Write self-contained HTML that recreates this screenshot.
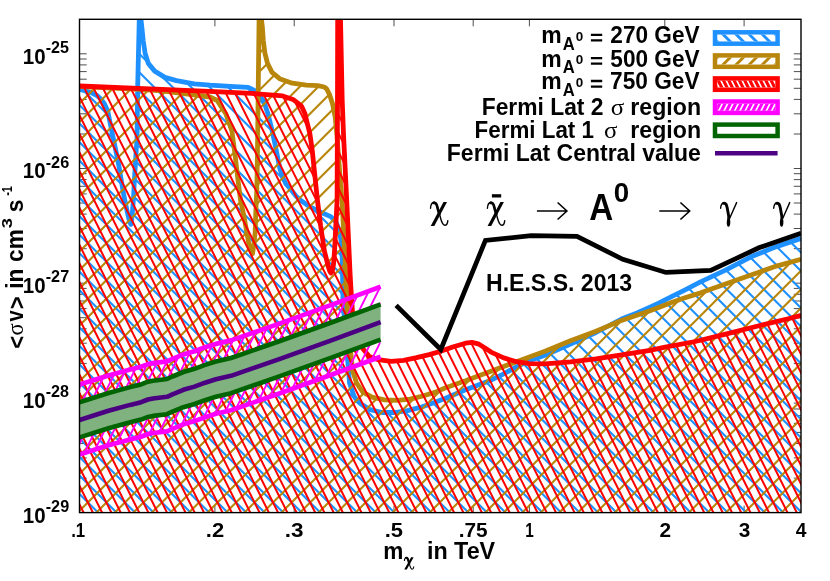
<!DOCTYPE html>
<html><head><meta charset="utf-8"><title>plot</title>
<style>html,body{margin:0;padding:0;background:#fff}svg{display:block}text{font-family:"Liberation Sans",sans-serif;font-weight:bold;fill:#000}.sy{font-family:"Liberation Serif",serif;font-weight:normal}</style></head>
<body>
<svg width="830" height="581" viewBox="0 0 830 581">
<rect width="830" height="581" fill="#fff"/>
<defs>
<clipPath id="fr"><rect x="79.5" y="19.3" width="721.5" height="493.3"/></clipPath>
<clipPath id="cb"><polygon points="79.5,89.5 86.0,91.0 92.2,93.0 97.0,95.5 100.8,99.0 104.5,104.0 107.7,111.0 111.2,128.2 115.5,148.9 118.9,165.8 120.6,176.4 124.1,196.8 127.5,213.0 129.8,222.5 131.0,224.3 132.2,215.0 133.6,196.8 134.4,180.0 135.3,165.8 136.2,150.0 137.0,140.0 137.7,86.0 139.5,10.0 139.9,10.0 141.9,27.7 143.2,40.5 145.1,53.2 148.3,63.4 154.7,71.1 164.9,77.4 176.4,80.6 194.2,83.8 210.0,85.1 230.0,86.3 248.2,87.3 255.0,90.8 259.0,95.0 263.7,101.1 268.0,114.0 272.3,131.0 275.8,148.2 280.0,168.9 283.0,178.0 286.0,184.0 290.0,188.5 296.4,196.5 300.2,200.0 309.1,206.4 321.9,212.7 330.8,216.6 335.9,221.7 339.7,231.9 341.6,244.6 342.2,257.3 343.0,300.0 346.0,340.0 349.6,383.2 354.0,396.0 357.0,400.5 360.4,403.6 369.3,409.3 382.0,412.5 394.8,412.5 407.5,410.6 420.3,407.4 433.0,403.0 445.0,398.5 465.5,389.7 491.0,380.2 503.7,373.8 516.5,366.8 529.2,360.8 545.0,355.3 570.5,344.0 596.0,332.5 621.5,319.0 637.0,313.0 650.0,307.2 658.7,303.1 671.5,296.7 684.2,290.3 700.0,282.2 725.5,270.2 751.0,256.8 776.5,246.6 801.0,238.4 801.0,512.6 79.5,512.6"/></clipPath>
<clipPath id="cg"><polygon points="79.5,86.6 140.0,89.3 161.0,90.8 178.0,92.8 195.5,95.0 210.0,97.0 217.2,100.5 222.0,108.0 225.8,113.8 231.9,131.0 235.3,156.8 237.9,179.2 240.5,200.0 243.9,215.8 249.1,245.1 251.5,252.0 252.5,253.7 253.8,245.0 255.1,233.0 256.0,207.2 256.8,190.0 257.5,150.0 258.1,100.0 259.2,10.0 260.3,10.0 261.4,19.0 262.4,27.7 263.3,40.5 264.9,53.2 267.5,63.4 272.0,72.3 279.6,78.7 292.3,83.2 306.4,85.1 317.8,85.7 324.2,87.0 326.7,88.9 329.5,94.5 332.6,104.0 335.2,117.2 336.9,134.4 339.5,170.0 342.0,200.0 344.6,250.0 346.9,300.0 349.0,340.0 351.0,355.0 352.2,366.0 352.7,370.5 356.6,383.2 362.9,392.1 371.9,397.2 384.6,399.8 397.3,400.4 410.1,399.2 422.8,396.0 435.6,392.1 445.0,388.0 465.5,380.8 491.0,371.2 516.5,361.7 545.0,351.2 570.5,340.8 596.0,331.2 621.5,320.4 650.0,310.8 658.7,307.5 671.5,302.4 684.2,298.0 700.0,293.1 725.5,284.0 751.0,275.0 776.5,266.1 801.0,259.3 801.0,512.6 79.5,512.6"/></clipPath>
<clipPath id="cr"><polygon points="79.5,86.0 215.0,91.6 251.7,93.4 282.7,95.9 293.0,99.4 298.2,103.4 301.6,106.3 305.0,113.8 307.4,123.7 309.9,133.9 312.2,150.0 314.8,175.0 317.4,200.0 320.6,225.5 324.4,251.0 328.2,266.3 329.8,271.3 331.0,273.0 332.4,270.3 333.6,263.7 334.6,250.0 335.2,238.2 336.5,212.7 337.1,200.0 337.5,100.0 337.7,10.0 340.3,10.0 342.2,100.0 343.5,134.0 346.7,200.0 350.1,274.0 351.0,290.0 353.0,320.0 356.0,335.0 362.9,348.8 369.3,356.5 378.2,359.7 391.0,361.3 403.7,360.3 416.5,357.7 429.2,354.6 440.0,351.5 452.7,347.0 465.5,343.2 471.9,342.3 478.2,343.8 484.6,347.7 491.0,352.1 503.7,357.9 516.5,361.7 529.2,363.6 545.0,363.8 570.5,361.8 596.0,358.9 621.5,354.8 650.0,350.3 664.0,347.3 695.3,341.5 726.6,333.8 758.0,326.0 789.3,318.5 801.2,315.4 801.2,512.6 79.5,512.6"/></clipPath>
<clipPath id="cm1"><polygon points="79.5,384.6 108.5,375.4 130.2,369.5 141.1,366.8 148.0,364.1 153.0,363.1 167.0,361.4 172.5,358.9 183.4,354.4 194.5,351.2 205.1,347.3 215.9,343.9 231.0,340.4 280.0,323.4 330.0,305.4 380.6,286.8 380.6,304.4 330.0,323.0 280.0,341.0 231.0,358.0 215.9,361.5 205.1,364.9 194.5,368.8 183.4,372.0 172.5,376.5 167.0,379.0 153.0,380.7 148.0,381.7 141.1,384.4 130.2,387.1 108.5,393.0 79.5,402.2"/></clipPath>
<clipPath id="cm2"><polygon points="79.5,437.4 108.5,428.2 130.2,422.3 141.1,419.6 148.0,416.9 153.0,415.9 167.0,414.2 172.5,411.7 183.4,407.2 194.5,404.0 205.1,400.1 215.9,396.7 231.0,393.2 280.0,376.2 330.0,358.2 380.6,339.6 380.6,356.7 330.0,375.3 280.0,393.3 231.0,410.3 215.9,413.8 205.1,417.2 194.5,421.1 183.4,424.3 172.5,428.8 167.0,431.3 153.0,433.0 148.0,434.0 141.1,436.7 130.2,439.4 108.5,445.3 79.5,454.5"/></clipPath>
</defs>
<path d="M79.5 478.1h7.2M801.0 478.1h-7.2M79.5 457.9h7.2M801.0 457.9h-7.2M79.5 443.5h7.2M801.0 443.5h-7.2M79.5 432.4h7.2M801.0 432.4h-7.2M79.5 423.3h7.2M801.0 423.3h-7.2M79.5 415.7h7.2M801.0 415.7h-7.2M79.5 409.0h7.2M801.0 409.0h-7.2M79.5 403.1h7.2M801.0 403.1h-7.2M79.5 397.9h7.2M801.0 397.9h-7.2M79.5 363.4h7.2M801.0 363.4h-7.2M79.5 343.2h7.2M801.0 343.2h-7.2M79.5 328.8h7.2M801.0 328.8h-7.2M79.5 317.7h7.2M801.0 317.7h-7.2M79.5 308.6h7.2M801.0 308.6h-7.2M79.5 301.0h7.2M801.0 301.0h-7.2M79.5 294.3h7.2M801.0 294.3h-7.2M79.5 288.4h7.2M801.0 288.4h-7.2M79.5 283.2h7.2M801.0 283.2h-7.2M79.5 248.7h7.2M801.0 248.7h-7.2M79.5 228.5h7.2M801.0 228.5h-7.2M79.5 214.1h7.2M801.0 214.1h-7.2M79.5 203.0h7.2M801.0 203.0h-7.2M79.5 193.9h7.2M801.0 193.9h-7.2M79.5 186.3h7.2M801.0 186.3h-7.2M79.5 179.6h7.2M801.0 179.6h-7.2M79.5 173.7h7.2M801.0 173.7h-7.2M79.5 168.5h7.2M801.0 168.5h-7.2M79.5 134.0h7.2M801.0 134.0h-7.2M79.5 113.8h7.2M801.0 113.8h-7.2M79.5 99.4h7.2M801.0 99.4h-7.2M79.5 88.3h7.2M801.0 88.3h-7.2M79.5 79.2h7.2M801.0 79.2h-7.2M79.5 71.6h7.2M801.0 71.6h-7.2M79.5 64.9h7.2M801.0 64.9h-7.2M79.5 59.0h7.2M801.0 59.0h-7.2M79.5 53.8h7.2M801.0 53.8h-7.2M214.9 512.6v-7M214.9 19.3v7M294.2 512.6v-7M294.2 19.3v7M394.0 512.6v-7M394.0 19.3v7M473.2 512.6v-7M473.2 19.3v7M529.4 512.6v-7M529.4 19.3v7M664.8 512.6v-7M664.8 19.3v7M744.1 512.6v-7M744.1 19.3v7" stroke="#000" stroke-width="0.7" fill="none"/>
<g clip-path="url(#fr)">
<g clip-path="url(#cb)"><path d="M74.5 -696.2L806.0 35.3M74.5 -677.7L806.0 53.8M74.5 -659.2L806.0 72.3M74.5 -640.7L806.0 90.8M74.5 -622.2L806.0 109.3M74.5 -603.6L806.0 127.9M74.5 -585.1L806.0 146.4M74.5 -566.6L806.0 164.9M74.5 -548.1L806.0 183.4M74.5 -529.6L806.0 201.9M74.5 -511.0L806.0 220.5M74.5 -492.5L806.0 239.0M74.5 -474.0L806.0 257.5M74.5 -455.5L806.0 276.0M74.5 -437.0L806.0 294.5M74.5 -418.4L806.0 313.1M74.5 -399.9L806.0 331.6M74.5 -381.4L806.0 350.1M74.5 -362.9L806.0 368.6M74.5 -344.4L806.0 387.1M74.5 -325.8L806.0 405.7M74.5 -307.3L806.0 424.2M74.5 -288.8L806.0 442.7M74.5 -270.3L806.0 461.2M74.5 -251.8L806.0 479.7M74.5 -233.2L806.0 498.3M74.5 -214.7L806.0 516.8M74.5 -196.2L806.0 535.3M74.5 -177.7L806.0 553.8M74.5 -159.2L806.0 572.3M74.5 -140.6L806.0 590.9M74.5 -122.1L806.0 609.4M74.5 -103.6L806.0 627.9M74.5 -85.1L806.0 646.4M74.5 -66.6L806.0 664.9M74.5 -48.0L806.0 683.5M74.5 -29.5L806.0 702.0M74.5 -11.0L806.0 720.5M74.5 7.5L806.0 739.0M74.5 26.0L806.0 757.5M74.5 44.6L806.0 776.1M74.5 63.1L806.0 794.6M74.5 81.6L806.0 813.1M74.5 100.1L806.0 831.6M74.5 118.6L806.0 850.1M74.5 137.2L806.0 868.7M74.5 155.7L806.0 887.2M74.5 174.2L806.0 905.7M74.5 192.7L806.0 924.2M74.5 211.2L806.0 942.7M74.5 229.8L806.0 961.3M74.5 248.3L806.0 979.8M74.5 266.8L806.0 998.3M74.5 285.3L806.0 1016.8M74.5 303.8L806.0 1035.3M74.5 322.4L806.0 1053.9M74.5 340.9L806.0 1072.4M74.5 359.4L806.0 1090.9M74.5 377.9L806.0 1109.4M74.5 396.4L806.0 1127.9M74.5 415.0L806.0 1146.5M74.5 433.5L806.0 1165.0M74.5 452.0L806.0 1183.5M74.5 470.5L806.0 1202.0M74.5 489.0L806.0 1220.5M74.5 507.6L806.0 1239.1" stroke="#1e90ff" stroke-width="2.10" fill="none"/></g>
<polyline points="79.5,89.5 86.0,91.0 92.2,93.0 97.0,95.5 100.8,99.0 104.5,104.0 107.7,111.0 111.2,128.2 115.5,148.9 118.9,165.8 120.6,176.4 124.1,196.8 127.5,213.0 129.8,222.5 131.0,224.3 132.2,215.0 133.6,196.8 134.4,180.0 135.3,165.8 136.2,150.0 137.0,140.0 137.7,86.0 139.5,10.0 139.9,10.0 141.9,27.7 143.2,40.5 145.1,53.2 148.3,63.4 154.7,71.1 164.9,77.4 176.4,80.6 194.2,83.8 210.0,85.1 230.0,86.3 248.2,87.3 255.0,90.8 259.0,95.0 263.7,101.1 268.0,114.0 272.3,131.0 275.8,148.2 280.0,168.9 283.0,178.0 286.0,184.0 290.0,188.5 296.4,196.5 300.2,200.0 309.1,206.4 321.9,212.7 330.8,216.6 335.9,221.7 339.7,231.9 341.6,244.6 342.2,257.3 343.0,300.0 346.0,340.0 349.6,383.2 354.0,396.0 357.0,400.5 360.4,403.6 369.3,409.3 382.0,412.5 394.8,412.5 407.5,410.6 420.3,407.4 433.0,403.0 445.0,398.5 465.5,389.7 491.0,380.2 503.7,373.8 516.5,366.8 529.2,360.8 545.0,355.3 570.5,344.0 596.0,332.5 621.5,319.0 637.0,313.0 650.0,307.2 658.7,303.1 671.5,296.7 684.2,290.3 700.0,282.2 725.5,270.2 751.0,256.8 776.5,246.6 801.0,238.4" fill="none" stroke="#1e90ff" stroke-width="4.8" stroke-linejoin="round"/>
<g clip-path="url(#cg)"><path d="M74.5 34.3L806.0 -697.2M74.5 52.8L806.0 -678.7M74.5 71.4L806.0 -660.1M74.5 89.9L806.0 -641.6M74.5 108.4L806.0 -623.1M74.5 126.9L806.0 -604.6M74.5 145.4L806.0 -586.1M74.5 164.0L806.0 -567.5M74.5 182.5L806.0 -549.0M74.5 201.0L806.0 -530.5M74.5 219.5L806.0 -512.0M74.5 238.0L806.0 -493.5M74.5 256.6L806.0 -474.9M74.5 275.1L806.0 -456.4M74.5 293.6L806.0 -437.9M74.5 312.1L806.0 -419.4M74.5 330.6L806.0 -400.9M74.5 349.2L806.0 -382.3M74.5 367.7L806.0 -363.8M74.5 386.2L806.0 -345.3M74.5 404.7L806.0 -326.8M74.5 423.2L806.0 -308.3M74.5 441.8L806.0 -289.8M74.5 460.3L806.0 -271.2M74.5 478.8L806.0 -252.7M74.5 497.3L806.0 -234.2M74.5 515.8L806.0 -215.7M74.5 534.4L806.0 -197.1M74.5 552.9L806.0 -178.6M74.5 571.4L806.0 -160.1M74.5 589.9L806.0 -141.6M74.5 608.4L806.0 -123.1M74.5 627.0L806.0 -104.5M74.5 645.5L806.0 -86.0M74.5 664.0L806.0 -67.5M74.5 682.5L806.0 -49.0M74.5 701.0L806.0 -30.5M74.5 719.5L806.0 -12.0M74.5 738.1L806.0 6.6M74.5 756.6L806.0 25.1M74.5 775.1L806.0 43.6M74.5 793.6L806.0 62.1M74.5 812.2L806.0 80.7M74.5 830.7L806.0 99.2M74.5 849.2L806.0 117.7M74.5 867.7L806.0 136.2M74.5 886.2L806.0 154.7M74.5 904.8L806.0 173.2M74.5 923.3L806.0 191.8M74.5 941.8L806.0 210.3M74.5 960.3L806.0 228.8M74.5 978.8L806.0 247.3M74.5 997.3L806.0 265.8M74.5 1015.9L806.0 284.4M74.5 1034.4L806.0 302.9M74.5 1052.9L806.0 321.4M74.5 1071.4L806.0 339.9M74.5 1090.0L806.0 358.5M74.5 1108.5L806.0 377.0M74.5 1127.0L806.0 395.5M74.5 1145.5L806.0 414.0M74.5 1164.0L806.0 432.5M74.5 1182.5L806.0 451.0M74.5 1201.1L806.0 469.6M74.5 1219.6L806.0 488.1M74.5 1238.1L806.0 506.6" stroke="#b8860b" stroke-width="2.10" fill="none"/></g>
<polyline points="79.5,86.6 140.0,89.3 161.0,90.8 178.0,92.8 195.5,95.0 210.0,97.0 217.2,100.5 222.0,108.0 225.8,113.8 231.9,131.0 235.3,156.8 237.9,179.2 240.5,200.0 243.9,215.8 249.1,245.1 251.5,252.0 252.5,253.7 253.8,245.0 255.1,233.0 256.0,207.2 256.8,190.0 257.5,150.0 258.1,100.0 259.2,10.0 260.3,10.0 261.4,19.0 262.4,27.7 263.3,40.5 264.9,53.2 267.5,63.4 272.0,72.3 279.6,78.7 292.3,83.2 306.4,85.1 317.8,85.7 324.2,87.0 326.7,88.9 329.5,94.5 332.6,104.0 335.2,117.2 336.9,134.4 339.5,170.0 342.0,200.0 344.6,250.0 346.9,300.0 349.0,340.0 351.0,355.0 352.2,366.0 352.7,370.5 356.6,383.2 362.9,392.1 371.9,397.2 384.6,399.8 397.3,400.4 410.1,399.2 422.8,396.0 435.6,392.1 445.0,388.0 465.5,380.8 491.0,371.2 516.5,361.7 545.0,351.2 570.5,340.8 596.0,331.2 621.5,320.4 650.0,310.8 658.7,307.5 671.5,302.4 684.2,298.0 700.0,293.1 725.5,284.0 751.0,275.0 776.5,266.1 801.0,259.3" fill="none" stroke="#b8860b" stroke-width="4.8" stroke-linejoin="round"/>
<g clip-path="url(#cr)"><path d="M-165.6 14.3L86.1 517.6M-156.3 14.3L95.4 517.6M-147.0 14.3L104.6 517.6M-137.8 14.3L113.9 517.6M-128.5 14.3L123.2 517.6M-119.2 14.3L132.4 517.6M-110.0 14.3L141.7 517.6M-100.7 14.3L150.9 517.6M-91.5 14.3L160.2 517.6M-82.2 14.3L169.5 517.6M-72.9 14.3L178.7 517.6M-63.7 14.3L188.0 517.6M-54.4 14.3L197.2 517.6M-45.1 14.3L206.5 517.6M-35.9 14.3L215.8 517.6M-26.6 14.3L225.0 517.6M-17.3 14.3L234.3 517.6M-8.1 14.3L243.6 517.6M1.2 14.3L252.8 517.6M10.4 14.3L262.1 517.6M19.7 14.3L271.4 517.6M29.0 14.3L280.6 517.6M38.2 14.3L289.9 517.6M47.5 14.3L299.1 517.6M56.7 14.3L308.4 517.6M66.0 14.3L317.7 517.6M75.3 14.3L326.9 517.6M84.5 14.3L336.2 517.6M93.8 14.3L345.4 517.6M103.1 14.3L354.7 517.6M112.3 14.3L364.0 517.6M121.6 14.3L373.2 517.6M130.8 14.3L382.5 517.6M140.1 14.3L391.8 517.6M149.4 14.3L401.0 517.6M158.6 14.3L410.3 517.6M167.9 14.3L419.6 517.6M177.2 14.3L428.8 517.6M186.4 14.3L438.1 517.6M195.7 14.3L447.3 517.6M205.0 14.3L456.6 517.6M214.2 14.3L465.9 517.6M223.5 14.3L475.1 517.6M232.7 14.3L484.4 517.6M242.0 14.3L493.6 517.6M251.3 14.3L502.9 517.6M260.5 14.3L512.2 517.6M269.8 14.3L521.4 517.6M279.0 14.3L530.7 517.6M288.3 14.3L540.0 517.6M297.6 14.3L549.2 517.6M306.8 14.3L558.5 517.6M316.1 14.3L567.8 517.6M325.4 14.3L577.0 517.6M334.6 14.3L586.3 517.6M343.9 14.3L595.5 517.6M353.1 14.3L604.8 517.6M362.4 14.3L614.1 517.6M371.7 14.3L623.3 517.6M380.9 14.3L632.6 517.6M390.2 14.3L641.8 517.6M399.5 14.3L651.1 517.6M408.7 14.3L660.4 517.6M418.0 14.3L669.6 517.6M427.2 14.3L678.9 517.6M436.5 14.3L688.2 517.6M445.8 14.3L697.4 517.6M455.0 14.3L706.7 517.6M464.3 14.3L715.9 517.6M473.6 14.3L725.2 517.6M482.8 14.3L734.5 517.6M492.1 14.3L743.7 517.6M501.3 14.3L753.0 517.6M510.6 14.3L762.3 517.6M519.9 14.3L771.5 517.6M529.1 14.3L780.8 517.6M538.4 14.3L790.0 517.6M547.7 14.3L799.3 517.6M556.9 14.3L808.6 517.6M566.2 14.3L817.8 517.6M575.4 14.3L827.1 517.6M584.7 14.3L836.4 517.6M594.0 14.3L845.6 517.6M603.2 14.3L854.9 517.6M612.5 14.3L864.1 517.6M621.8 14.3L873.4 517.6M631.0 14.3L882.7 517.6M640.3 14.3L891.9 517.6M649.5 14.3L901.2 517.6M658.8 14.3L910.5 517.6M668.1 14.3L919.7 517.6M677.3 14.3L929.0 517.6M686.6 14.3L938.2 517.6M695.9 14.3L947.5 517.6M705.1 14.3L956.8 517.6M714.4 14.3L966.0 517.6M723.6 14.3L975.3 517.6M732.9 14.3L984.6 517.6M742.2 14.3L993.8 517.6M751.4 14.3L1003.1 517.6M760.7 14.3L1012.3 517.6M770.0 14.3L1021.6 517.6M779.2 14.3L1030.9 517.6M788.5 14.3L1040.1 517.6M797.7 14.3L1049.4 517.6" stroke="#ff0000" stroke-width="2.00" fill="none"/></g>
<polyline points="79.5,86.0 215.0,91.6 251.7,93.4 282.7,95.9 293.0,99.4 298.2,103.4 301.6,106.3 305.0,113.8 307.4,123.7 309.9,133.9 312.2,150.0 314.8,175.0 317.4,200.0 320.6,225.5 324.4,251.0 328.2,266.3 329.8,271.3 331.0,273.0 332.4,270.3 333.6,263.7 334.6,250.0 335.2,238.2 336.5,212.7 337.1,200.0 337.5,100.0 337.7,10.0 340.3,10.0 342.2,100.0 343.5,134.0 346.7,200.0 350.1,274.0 351.0,290.0 353.0,320.0 356.0,335.0 362.9,348.8 369.3,356.5 378.2,359.7 391.0,361.3 403.7,360.3 416.5,357.7 429.2,354.6 440.0,351.5 452.7,347.0 465.5,343.2 471.9,342.3 478.2,343.8 484.6,347.7 491.0,352.1 503.7,357.9 516.5,361.7 529.2,363.6 545.0,363.8 570.5,361.8 596.0,358.9 621.5,354.8 650.0,350.3 664.0,347.3 695.3,341.5 726.6,333.8 758.0,326.0 789.3,318.5 801.2,315.4" fill="none" stroke="#ff0000" stroke-width="4.8" stroke-linejoin="round"/>
<g clip-path="url(#cm1)"><path d="M81.2 14.3L-170.4 517.6M90.5 14.3L-161.2 517.6M99.7 14.3L-151.9 517.6M109.0 14.3L-142.7 517.6M118.3 14.3L-133.4 517.6M127.5 14.3L-124.1 517.6M136.8 14.3L-114.9 517.6M146.0 14.3L-105.6 517.6M155.3 14.3L-96.3 517.6M164.6 14.3L-87.1 517.6M173.8 14.3L-77.8 517.6M183.1 14.3L-68.6 517.6M192.4 14.3L-59.3 517.6M201.6 14.3L-50.0 517.6M210.9 14.3L-40.8 517.6M220.1 14.3L-31.5 517.6M229.4 14.3L-22.2 517.6M238.7 14.3L-13.0 517.6M247.9 14.3L-3.7 517.6M257.2 14.3L5.5 517.6M266.5 14.3L14.8 517.6M275.7 14.3L24.1 517.6M285.0 14.3L33.3 517.6M294.2 14.3L42.6 517.6M303.5 14.3L51.9 517.6M312.8 14.3L61.1 517.6M322.0 14.3L70.4 517.6M331.3 14.3L79.6 517.6M340.6 14.3L88.9 517.6M349.8 14.3L98.2 517.6M359.1 14.3L107.4 517.6M368.3 14.3L116.7 517.6M377.6 14.3L125.9 517.6M386.9 14.3L135.2 517.6M396.1 14.3L144.5 517.6M405.4 14.3L153.7 517.6M414.6 14.3L163.0 517.6M423.9 14.3L172.3 517.6M433.2 14.3L181.5 517.6M442.4 14.3L190.8 517.6M451.7 14.3L200.1 517.6M461.0 14.3L209.3 517.6M470.2 14.3L218.6 517.6M479.5 14.3L227.8 517.6M488.8 14.3L237.1 517.6M498.0 14.3L246.4 517.6M507.3 14.3L255.6 517.6M516.5 14.3L264.9 517.6M525.8 14.3L274.1 517.6M535.1 14.3L283.4 517.6M544.3 14.3L292.7 517.6M553.6 14.3L301.9 517.6M562.9 14.3L311.2 517.6M572.1 14.3L320.5 517.6M581.4 14.3L329.7 517.6M590.6 14.3L339.0 517.6M599.9 14.3L348.2 517.6M609.2 14.3L357.5 517.6M618.4 14.3L366.8 517.6M627.7 14.3L376.0 517.6M637.0 14.3L385.3 517.6M646.2 14.3L394.6 517.6M655.5 14.3L403.8 517.6M664.7 14.3L413.1 517.6M674.0 14.3L422.3 517.6M683.3 14.3L431.6 517.6M692.5 14.3L440.9 517.6M701.8 14.3L450.1 517.6M711.0 14.3L459.4 517.6M720.3 14.3L468.7 517.6M729.6 14.3L477.9 517.6M738.8 14.3L487.2 517.6M748.1 14.3L496.4 517.6M757.4 14.3L505.7 517.6M766.6 14.3L515.0 517.6M775.9 14.3L524.2 517.6M785.1 14.3L533.5 517.6M794.4 14.3L542.8 517.6M803.7 14.3L552.0 517.6M812.9 14.3L561.3 517.6M822.2 14.3L570.5 517.6M831.5 14.3L579.8 517.6M840.7 14.3L589.1 517.6M850.0 14.3L598.3 517.6M859.2 14.3L607.6 517.6M868.5 14.3L616.9 517.6M877.8 14.3L626.1 517.6M887.0 14.3L635.4 517.6M896.3 14.3L644.7 517.6M905.6 14.3L653.9 517.6M914.8 14.3L663.2 517.6M924.1 14.3L672.4 517.6M933.4 14.3L681.7 517.6M942.6 14.3L691.0 517.6M951.9 14.3L700.2 517.6M961.1 14.3L709.5 517.6M970.4 14.3L718.8 517.6M979.7 14.3L728.0 517.6M988.9 14.3L737.3 517.6M998.2 14.3L746.5 517.6M1007.4 14.3L755.8 517.6M1016.7 14.3L765.1 517.6M1026.0 14.3L774.3 517.6M1035.2 14.3L783.6 517.6M1044.5 14.3L792.8 517.6M1053.8 14.3L802.1 517.6" stroke="#ff00ff" stroke-width="1.90" fill="none"/></g>
<g clip-path="url(#cm2)"><path d="M81.2 14.3L-170.4 517.6M90.5 14.3L-161.2 517.6M99.7 14.3L-151.9 517.6M109.0 14.3L-142.7 517.6M118.3 14.3L-133.4 517.6M127.5 14.3L-124.1 517.6M136.8 14.3L-114.9 517.6M146.0 14.3L-105.6 517.6M155.3 14.3L-96.3 517.6M164.6 14.3L-87.1 517.6M173.8 14.3L-77.8 517.6M183.1 14.3L-68.6 517.6M192.4 14.3L-59.3 517.6M201.6 14.3L-50.0 517.6M210.9 14.3L-40.8 517.6M220.1 14.3L-31.5 517.6M229.4 14.3L-22.2 517.6M238.7 14.3L-13.0 517.6M247.9 14.3L-3.7 517.6M257.2 14.3L5.5 517.6M266.5 14.3L14.8 517.6M275.7 14.3L24.1 517.6M285.0 14.3L33.3 517.6M294.2 14.3L42.6 517.6M303.5 14.3L51.9 517.6M312.8 14.3L61.1 517.6M322.0 14.3L70.4 517.6M331.3 14.3L79.6 517.6M340.6 14.3L88.9 517.6M349.8 14.3L98.2 517.6M359.1 14.3L107.4 517.6M368.3 14.3L116.7 517.6M377.6 14.3L125.9 517.6M386.9 14.3L135.2 517.6M396.1 14.3L144.5 517.6M405.4 14.3L153.7 517.6M414.6 14.3L163.0 517.6M423.9 14.3L172.3 517.6M433.2 14.3L181.5 517.6M442.4 14.3L190.8 517.6M451.7 14.3L200.1 517.6M461.0 14.3L209.3 517.6M470.2 14.3L218.6 517.6M479.5 14.3L227.8 517.6M488.8 14.3L237.1 517.6M498.0 14.3L246.4 517.6M507.3 14.3L255.6 517.6M516.5 14.3L264.9 517.6M525.8 14.3L274.1 517.6M535.1 14.3L283.4 517.6M544.3 14.3L292.7 517.6M553.6 14.3L301.9 517.6M562.9 14.3L311.2 517.6M572.1 14.3L320.5 517.6M581.4 14.3L329.7 517.6M590.6 14.3L339.0 517.6M599.9 14.3L348.2 517.6M609.2 14.3L357.5 517.6M618.4 14.3L366.8 517.6M627.7 14.3L376.0 517.6M637.0 14.3L385.3 517.6M646.2 14.3L394.6 517.6M655.5 14.3L403.8 517.6M664.7 14.3L413.1 517.6M674.0 14.3L422.3 517.6M683.3 14.3L431.6 517.6M692.5 14.3L440.9 517.6M701.8 14.3L450.1 517.6M711.0 14.3L459.4 517.6M720.3 14.3L468.7 517.6M729.6 14.3L477.9 517.6M738.8 14.3L487.2 517.6M748.1 14.3L496.4 517.6M757.4 14.3L505.7 517.6M766.6 14.3L515.0 517.6M775.9 14.3L524.2 517.6M785.1 14.3L533.5 517.6M794.4 14.3L542.8 517.6M803.7 14.3L552.0 517.6M812.9 14.3L561.3 517.6M822.2 14.3L570.5 517.6M831.5 14.3L579.8 517.6M840.7 14.3L589.1 517.6M850.0 14.3L598.3 517.6M859.2 14.3L607.6 517.6M868.5 14.3L616.9 517.6M877.8 14.3L626.1 517.6M887.0 14.3L635.4 517.6M896.3 14.3L644.7 517.6M905.6 14.3L653.9 517.6M914.8 14.3L663.2 517.6M924.1 14.3L672.4 517.6M933.4 14.3L681.7 517.6M942.6 14.3L691.0 517.6M951.9 14.3L700.2 517.6M961.1 14.3L709.5 517.6M970.4 14.3L718.8 517.6M979.7 14.3L728.0 517.6M988.9 14.3L737.3 517.6M998.2 14.3L746.5 517.6M1007.4 14.3L755.8 517.6M1016.7 14.3L765.1 517.6M1026.0 14.3L774.3 517.6M1035.2 14.3L783.6 517.6M1044.5 14.3L792.8 517.6M1053.8 14.3L802.1 517.6" stroke="#ff00ff" stroke-width="1.90" fill="none"/></g>
<polyline points="79.5,384.6 108.5,375.4 130.2,369.5 141.1,366.8 148.0,364.1 153.0,363.1 167.0,361.4 172.5,358.9 183.4,354.4 194.5,351.2 205.1,347.3 215.9,343.9 231.0,340.4 280.0,323.4 330.0,305.4 380.6,286.8" fill="none" stroke="#ff00ff" stroke-width="4.7" stroke-linejoin="round"/>
<polyline points="79.5,454.5 108.5,445.3 130.2,439.4 141.1,436.7 148.0,434.0 153.0,433.0 167.0,431.3 172.5,428.8 183.4,424.3 194.5,421.1 205.1,417.2 215.9,413.8 231.0,410.3 280.0,393.3 330.0,375.3 380.6,356.7" fill="none" stroke="#ff00ff" stroke-width="4.7" stroke-linejoin="round"/>
<polygon points="79.5,402.2 108.5,393.0 130.2,387.1 141.1,384.4 148.0,381.7 153.0,380.7 167.0,379.0 172.5,376.5 183.4,372.0 194.5,368.8 205.1,364.9 215.9,361.5 231.0,358.0 280.0,341.0 330.0,323.0 380.6,304.4 380.6,339.6 330.0,358.2 280.0,376.2 231.0,393.2 215.9,396.7 205.1,400.1 194.5,404.0 183.4,407.2 172.5,411.7 167.0,414.2 153.0,415.9 148.0,416.9 141.1,419.6 130.2,422.3 108.5,428.2 79.5,437.4" fill="#7fb27f"/>
<polyline points="79.5,402.2 108.5,393.0 130.2,387.1 141.1,384.4 148.0,381.7 153.0,380.7 167.0,379.0 172.5,376.5 183.4,372.0 194.5,368.8 205.1,364.9 215.9,361.5 231.0,358.0 280.0,341.0 330.0,323.0 380.6,304.4" fill="none" stroke="#006400" stroke-width="4.6" stroke-linejoin="round"/>
<polyline points="79.5,437.4 108.5,428.2 130.2,422.3 141.1,419.6 148.0,416.9 153.0,415.9 167.0,414.2 172.5,411.7 183.4,407.2 194.5,404.0 205.1,400.1 215.9,396.7 231.0,393.2 280.0,376.2 330.0,358.2 380.6,339.6" fill="none" stroke="#006400" stroke-width="4.6" stroke-linejoin="round"/>
<polyline points="79.5,420.0 108.5,410.8 130.2,404.9 141.1,402.2 148.0,399.5 153.0,398.5 167.0,396.8 172.5,394.3 183.4,389.8 194.5,386.6 205.1,382.7 215.9,379.3 231.0,375.8 280.0,358.8 330.0,340.8 380.6,322.2" fill="none" stroke="#4b0082" stroke-width="4.6" stroke-linejoin="round"/>
<polyline points="396.1,305.3 440.8,349.5 485.4,240.5 531.2,235.7 577.0,236.4 622.8,259.3 665.9,272.4 710.7,270.4 758.9,247.8 801.0,233.2" fill="none" stroke="#000" stroke-width="4.7" stroke-linejoin="miter"/>
</g>
<rect x="79.5" y="19.3" width="721.5" height="493.3" fill="none" stroke="#000" stroke-width="1.4"/>
<g opacity="0.996">
<text transform="translate(22.77 522.50) scale(0.970 1.000)" font-size="21.2">10</text>
<text transform="translate(45.71 511.80) scale(0.990 1.000)" font-size="16.4">-29</text>
<text transform="translate(22.77 407.80) scale(0.970 1.000)" font-size="21.2">10</text>
<text transform="translate(45.72 397.10) scale(0.983 1.000)" font-size="16.4">-28</text>
<text transform="translate(22.77 293.10) scale(0.970 1.000)" font-size="21.2">10</text>
<text transform="translate(45.71 282.40) scale(0.990 1.000)" font-size="16.4">-27</text>
<text transform="translate(22.77 178.40) scale(0.970 1.000)" font-size="21.2">10</text>
<text transform="translate(45.71 167.70) scale(0.990 1.000)" font-size="16.4">-26</text>
<text transform="translate(22.77 63.70) scale(0.970 1.000)" font-size="21.2">10</text>
<text transform="translate(45.72 53.00) scale(0.983 1.000)" font-size="16.4">-25</text>
<text transform="translate(71.19 536.60) scale(0.802 1.000)" font-size="21.0">.1</text>
<text transform="translate(205.82 536.60) scale(1.046 1.000)" font-size="21.0">.2</text>
<text transform="translate(284.81 536.60) scale(1.071 1.000)" font-size="21.0">.3</text>
<text transform="translate(384.75 536.60) scale(1.044 1.000)" font-size="21.0">.5</text>
<text transform="translate(458.64 536.60) scale(0.993 1.000)" font-size="21.0">.75</text>
<text transform="translate(525.18 536.60) scale(0.729 1.000)" font-size="21.0">1</text>
<text transform="translate(659.41 536.60) scale(0.991 1.000)" font-size="21.0">2</text>
<text transform="translate(738.74 536.60) scale(0.990 1.000)" font-size="21.0">3</text>
<text transform="translate(795.67 536.60) scale(0.918 1.000)" font-size="21.0">4</text>
<text transform="translate(383.24 558.50) scale(0.962 1.000)" font-size="23.5">m</text>
<g transform="translate(404.2 557.0) scale(0.540 0.510)" fill="none" stroke="#000" stroke-linecap="round"><path d="M12.8 0.6L17.5 0.6L4.8 24.5L0.0 24.5Z" fill="#000" stroke="none"/><path d="M0.4 6.8C0.6 3.4 1.9 1.1 4.2 0.9C6.2 0.8 6.9 3 7.7 6.5L10.8 17.9C11.8 21.5 13 23.9 14.9 23.9C16.6 23.9 17.5 21.6 17.7 19.2" stroke-width="2.10"/><path d="M3.6 1.5C6 0.9 6.8 3.6 7.7 7.5L9.2 12.8" stroke-width="4.05"/></g>
<text transform="translate(426.90 558.50) scale(0.994 1.000)" font-size="23.5">in TeV</text>
<text transform="translate(25.40 348.68) rotate(-90) scale(0.935 1.000)" font-size="23.5">&lt;</text>
<text transform="translate(23.30 335.38) rotate(-90) scale(0.962 1.000)" font-size="23.5" class="sy">σ</text>
<text transform="translate(23.30 321.50) rotate(-90) scale(0.851 1.000)" font-size="23.5">v</text>
<text transform="translate(25.40 309.18) rotate(-90) scale(0.935 1.000)" font-size="23.5">&gt;</text>
<text transform="translate(23.30 288.76) rotate(-90) scale(0.964 1.000)" font-size="23.5">in</text>
<text transform="translate(23.30 261.88) rotate(-90) scale(0.960 1.000)" font-size="23.5">cm</text>
<text transform="translate(11.70 228.37) rotate(-90) scale(1.260 1.000)" font-size="14.6">3</text>
<text transform="translate(23.30 212.29) rotate(-90) scale(0.973 1.000)" font-size="23.5">s</text>
<text transform="translate(11.70 195.82) rotate(-90) scale(0.740 1.000)" font-size="14.6">-1</text>
<clipPath id="lc0"><rect x="717.2" y="34.5" width="58.2" height="7.0"/></clipPath>
<path clip-path="url(#lc0)" d="M707.3 31.7l12 12M720.4 31.7l12 12M733.5 31.7l12 12M746.6 31.7l12 12M759.7 31.7l12 12M772.8 31.7l12 12M785.9 31.7l12 12" stroke="#1e90ff" stroke-width="2.9"/>
<rect x="715.0" y="32.3" width="62.6" height="11.4" fill="none" stroke="#1e90ff" stroke-width="4.5"/>
<clipPath id="lc1"><rect x="717.2" y="57.6" width="58.2" height="7.0"/></clipPath>
<path clip-path="url(#lc1)" d="M706.7 67.9l12 -12M719.8 67.9l12 -12M732.9 67.9l12 -12M746.0 67.9l12 -12M759.1 67.9l12 -12M772.2 67.9l12 -12M785.3 67.9l12 -12" stroke="#b8860b" stroke-width="2.9"/>
<rect x="715.0" y="55.4" width="62.6" height="11.4" fill="none" stroke="#b8860b" stroke-width="4.5"/>
<clipPath id="lc2"><rect x="717.2" y="80.6" width="58.2" height="7.0"/></clipPath>
<path clip-path="url(#lc2)" d="M706.4 78.0l6 12M711.7 78.0l6 12M717.0 78.0l6 12M722.3 78.0l6 12M727.6 78.0l6 12M732.9 78.0l6 12M738.2 78.0l6 12M743.5 78.0l6 12M748.7 78.0l6 12M754.0 78.0l6 12M759.3 78.0l6 12M764.6 78.0l6 12M769.9 78.0l6 12M775.2 78.0l6 12M780.5 78.0l6 12" stroke="#ff0000" stroke-width="3.1"/>
<rect x="715.0" y="78.4" width="62.6" height="11.4" fill="none" stroke="#ff0000" stroke-width="4.5"/>
<clipPath id="lc3"><rect x="717.2" y="103.7" width="58.2" height="7.0"/></clipPath>
<path clip-path="url(#lc3)" d="M704.4 113.0l6 -12M709.7 113.0l6 -12M715.0 113.0l6 -12M720.3 113.0l6 -12M725.6 113.0l6 -12M730.9 113.0l6 -12M736.2 113.0l6 -12M741.5 113.0l6 -12M746.7 113.0l6 -12M752.0 113.0l6 -12M757.3 113.0l6 -12M762.6 113.0l6 -12M767.9 113.0l6 -12M773.2 113.0l6 -12M778.5 113.0l6 -12" stroke="#ff00ff" stroke-width="3.1"/>
<rect x="715.0" y="101.5" width="62.6" height="11.4" fill="none" stroke="#ff00ff" stroke-width="4.5"/>
<clipPath id="lc4"><rect x="717.2" y="126.8" width="58.2" height="7.0"/></clipPath>
<rect x="715.0" y="124.6" width="62.6" height="11.4" fill="none" stroke="#006400" stroke-width="4.5"/>
<line x1="715" y1="153.3" x2="777.6" y2="153.3" stroke="#4b0082" stroke-width="4.6"/>
<text transform="translate(541.32 43.20) scale(0.978 1.000)" font-size="23.5">m</text>
<text transform="translate(562.67 50.10) scale(0.893 1.000)" font-size="18.6">A</text>
<text transform="translate(575.70 40.80) scale(1.044 1.000)" font-size="12.9">0</text>
<path d="M590.9 34.8h11.3M590.9 40.4h11.3" stroke="#000" stroke-width="2.3"/>
<text transform="translate(610.32 43.20) scale(0.963 1.000)" font-size="23.5">270 GeV</text>
<text transform="translate(541.32 66.50) scale(0.978 1.000)" font-size="23.5">m</text>
<text transform="translate(562.67 73.40) scale(0.893 1.000)" font-size="18.6">A</text>
<text transform="translate(575.70 64.10) scale(1.044 1.000)" font-size="12.9">0</text>
<path d="M590.9 58.1h11.3M590.9 63.7h11.3" stroke="#000" stroke-width="2.3"/>
<text transform="translate(610.32 66.50) scale(0.963 1.000)" font-size="23.5">500 GeV</text>
<text transform="translate(541.32 89.40) scale(0.978 1.000)" font-size="23.5">m</text>
<text transform="translate(562.67 96.30) scale(0.893 1.000)" font-size="18.6">A</text>
<text transform="translate(575.70 87.00) scale(1.044 1.000)" font-size="12.9">0</text>
<path d="M590.9 81.0h11.3M590.9 86.6h11.3" stroke="#000" stroke-width="2.3"/>
<text transform="translate(610.09 89.40) scale(0.965 1.000)" font-size="23.5">750 GeV</text>
<text transform="translate(481.73 114.90) scale(0.972 1.000)" font-size="23.5">Fermi Lat 2</text>
<text transform="translate(610.65 114.90) scale(1.064 1.000)" font-size="23.5" class="sy">σ</text>
<text transform="translate(630.31 114.90) scale(0.987 1.000)" font-size="23.5">region</text>
<text transform="translate(474.56 137.80) scale(0.953 1.000)" font-size="23.5">Fermi Lat 1</text>
<text transform="translate(603.96 137.80) scale(1.055 1.000)" font-size="23.5" class="sy">σ</text>
<text transform="translate(630.31 137.80) scale(0.987 1.000)" font-size="23.5">region</text>
<text transform="translate(446.82 160.80) scale(0.978 1.000)" font-size="23.5">Fermi Lat Central value</text>
<text transform="translate(486.02 291.10) scale(0.982 1.000)" font-size="23.5">H.E.S.S. 2013</text>
<g transform="translate(430.1 201.4) scale(1.000 1.000)" fill="none" stroke="#000" stroke-linecap="round"><path d="M13.4 0.6L16.9 0.6L4.2 24.5L0.6 24.5Z" fill="#000" stroke="none"/><path d="M0.4 6.8C0.6 3.4 1.9 1.1 4.2 0.9C6.2 0.8 6.9 3 7.7 6.5L10.8 17.9C11.8 21.5 13 23.9 14.9 23.9C16.6 23.9 17.5 21.6 17.7 19.2" stroke-width="1.40"/><path d="M3.6 1.5C6 0.9 6.8 3.6 7.7 7.5L9.2 12.8" stroke-width="2.70"/></g>
<g transform="translate(487.0 201.4) scale(1.000 1.000)" fill="none" stroke="#000" stroke-linecap="round"><path d="M13.4 0.6L16.9 0.6L4.2 24.5L0.6 24.5Z" fill="#000" stroke="none"/><path d="M0.4 6.8C0.6 3.4 1.9 1.1 4.2 0.9C6.2 0.8 6.9 3 7.7 6.5L10.8 17.9C11.8 21.5 13 23.9 14.9 23.9C16.6 23.9 17.5 21.6 17.7 19.2" stroke-width="1.40"/><path d="M3.6 1.5C6 0.9 6.8 3.6 7.7 7.5L9.2 12.8" stroke-width="2.70"/></g>
<rect x="491.9" y="194.2" width="9.3" height="3.3" fill="#000"/>
<path d="M536.9 211.0H566.7M557.6 202.5L566.9 211.0L557.6 219.5" stroke="#000" stroke-width="1.6" fill="none" stroke-linejoin="miter"/>
<path d="M659.3 211.0H689.5M680.4 202.5L689.7 211.0L680.4 219.5" stroke="#000" stroke-width="1.6" fill="none" stroke-linejoin="miter"/>
<text transform="translate(589.14 219.50) scale(0.944 1.040)" font-size="35.2">A</text>
<text transform="translate(613.67 202.10) scale(1.028 1.000)" font-size="27.0">0</text>
<g transform="translate(720.1 201.8) scale(1.000 1.000)" fill="none" stroke="#000" stroke-linecap="round"><path d="M0.5 6.5C0.7 3.3 2 1.1 4 0.9" stroke-width="1.4"/><path d="M3.4 1.5C5.6 0.8 6.5 3 7.1 6L8.8 15.5" stroke-width="2.9"/><path d="M16.5 0.8L9.6 16.5" stroke-width="1.4"/><path d="M9 14.2C10.7 18 10.7 24.9 8.4 24.9C6.1 24.9 6.2 19 7.9 14.2Z" fill="#000" stroke="none"/></g>
<g transform="translate(773.2 201.8) scale(1.000 1.000)" fill="none" stroke="#000" stroke-linecap="round"><path d="M0.5 6.5C0.7 3.3 2 1.1 4 0.9" stroke-width="1.4"/><path d="M3.4 1.5C5.6 0.8 6.5 3 7.1 6L8.8 15.5" stroke-width="2.9"/><path d="M16.5 0.8L9.6 16.5" stroke-width="1.4"/><path d="M9 14.2C10.7 18 10.7 24.9 8.4 24.9C6.1 24.9 6.2 19 7.9 14.2Z" fill="#000" stroke="none"/></g>
</g>
</svg></body></html>
